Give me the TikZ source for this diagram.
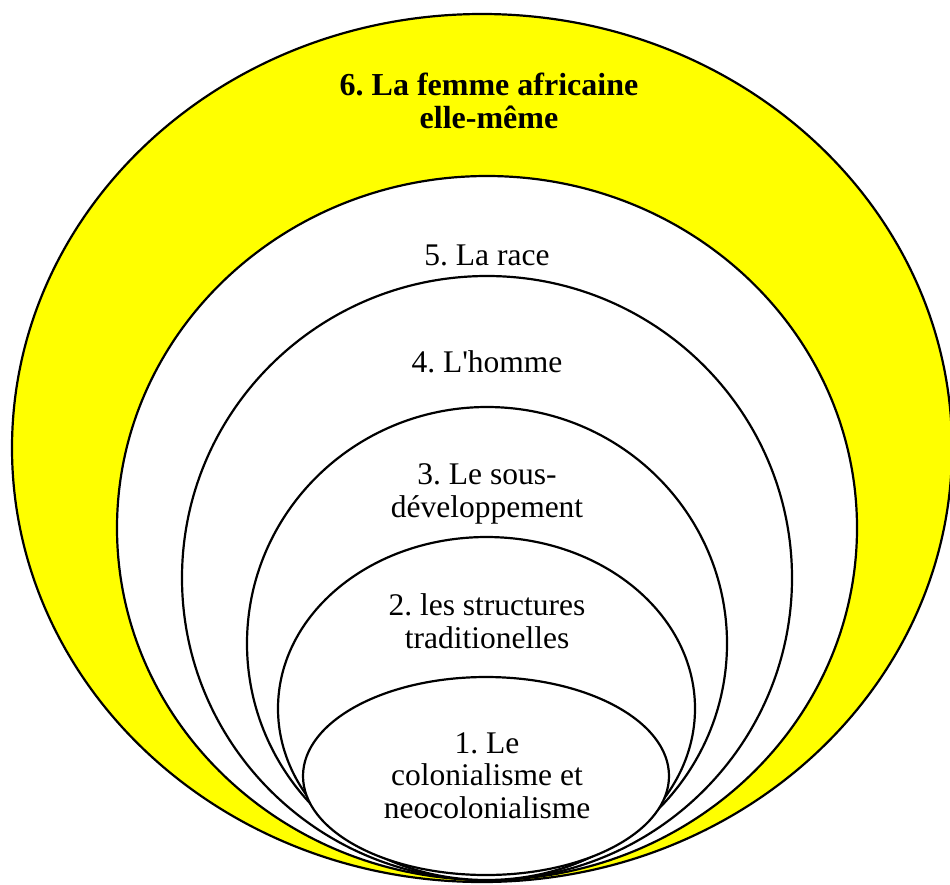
\documentclass[tikz,border=0pt]{standalone}
\usepackage{fontspec}
\setmainfont{Liberation Serif}
\frenchspacing
\definecolor{pureyellow}{RGB}{255,255,0}
\tikzset{
  ring/.style={draw=black, line width=2.2pt, fill=white},
  outerring/.style={draw=black, line width=2.2pt, fill=pureyellow},
  lbl/.style={anchor=base, align=center, inner sep=0pt, font=\fontsize{31.5}{32.5}\selectfont},
  lblbold/.style={lbl, font=\fontsize{32}{33}\selectfont\bfseries}
}
\begin{document}
\begin{tikzpicture}[x=1pt,y=-1pt]
\useasboundingbox (0,0) rectangle (950,884);
\fill[white] (0,0) rectangle (950,884);
% nested ellipses, all touching near the bottom
\draw[outerring] (482,448) ellipse [x radius=470pt, y radius=434pt];
\draw[ring] (487,528) ellipse [x radius=370pt, y radius=352pt];
\draw[ring] (487,578) ellipse [x radius=305pt, y radius=302pt];
\draw[ring] (487,643.5) ellipse [x radius=240pt, y radius=236.5pt];
\draw[ring] (486.5,708.5) ellipse [x radius=208.5pt, y radius=171.5pt];
\draw[ring] (486,776) ellipse [x radius=183pt, y radius=99pt];
% labels (anchor = baseline of the last line)
\node[lblbold] (t6) at (489,128) {6. La femme africaine\\elle-même};
\node[lbl] (t5) at (487,265) {5. La race};
\node[lbl] (t4) at (487,372) {4. L\textquotesingle homme};
\node[lbl] (t3) at (487,517) {3. Le sous-\\développement};
\node[lbl] (t2) at (487,648) {2. les structures\\traditionelles};
\node[lbl] (t1) at (487,818) {1. Le\\colonialisme et\\neocolonialisme};
\end{tikzpicture}
\end{document}
